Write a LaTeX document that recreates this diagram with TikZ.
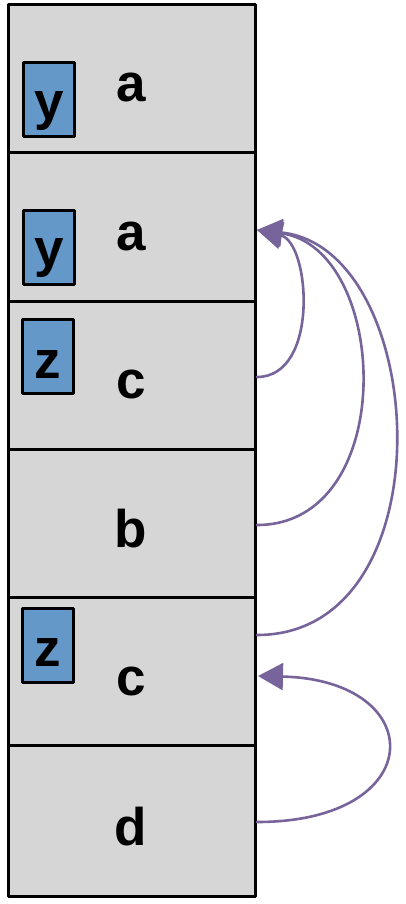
\documentclass[tikz,border=0pt]{standalone}
\usepackage{fontspec}
\setmainfont{Liberation Sans}
\usepackage{tikz}
\usetikzlibrary{arrows}
\usetikzlibrary{arrows.meta,calc}
\definecolor{cellgray}{HTML}{D6D6D6}
\definecolor{tagblue}{HTML}{6398C9}
\definecolor{linkpurple}{HTML}{76649A}
\tikzset{
  cell/.style={draw=black,fill=cellgray,line width=3pt,minimum width=247pt,minimum height=148pt,inner sep=0pt},
  tag/.style={draw=black,fill=tagblue,line width=3pt,minimum width=51pt,minimum height=74pt,inner sep=0pt},
  letter/.style={anchor=base,inner sep=0pt,font=\fontsize{53}{60}\selectfont\bfseries},
  link/.style={draw=linkpurple,line width=2.6pt,-{Triangle[length=25pt,width=27pt]}}
}
\begin{document}
\begin{tikzpicture}[line cap=round,line join=round,x=1pt,y=-1pt]
                \useasboundingbox (0,0) rectangle (405,904);
                \node[cell] (c1) at (131.5,79) {};
                \node[cell] (c2) at (131.5,227) {};
                \node[cell] (c3) at (131.5,375) {};
                \node[cell] (c4) at (131.5,523) {};
                \node[cell] (c5) at (131.5,671) {};
                \node[cell,minimum height=151pt] (c6) at (131.5,820.5) {};
                \node[tag] (t1) at (49,99.5) {};
                \node[tag] (t2) at (49,247.5) {};
                \node[tag] (t3) at (48,356) {};
                \node[tag] (t5) at (48,645) {};
                \node[letter] (ty1) at (49,120) {y};
                \node[letter] (ty2) at (49,266) {y};
                \node[letter] (tz3) at (48,378) {z};
                \node[letter] (tz5) at (48,666) {z};
                \node[letter] (l1) at (131,102) {a};
                \node[letter] (l2) at (131,250) {a};
                \node[letter] (l3) at (131,398) {c};
                \node[letter] (l4) at (131,547) {b};
                \node[letter] (l5) at (131,695) {c};
                \node[letter] (l6) at (131,845) {d};
                \coordinate (in2) at (257,230);
                \coordinate (in5) at (258,676);
                \coordinate (out3) at (257,377);
                \coordinate (out4) at (257,525);
                \coordinate (out5) at (257,635);
                \coordinate (out6) at (257,822);
                \draw[link] (out3) .. controls (320,377) and (310,242) .. (in2);
                \draw[link] (out4) .. controls (400,525) and (390,248) .. (in2);
                \draw[link] (out5) .. controls (450,635) and (430,248) .. (in2);
                \draw[link] (out6) .. controls (430,822) and (430,680) .. (in5);
\end{tikzpicture}
\end{document}
